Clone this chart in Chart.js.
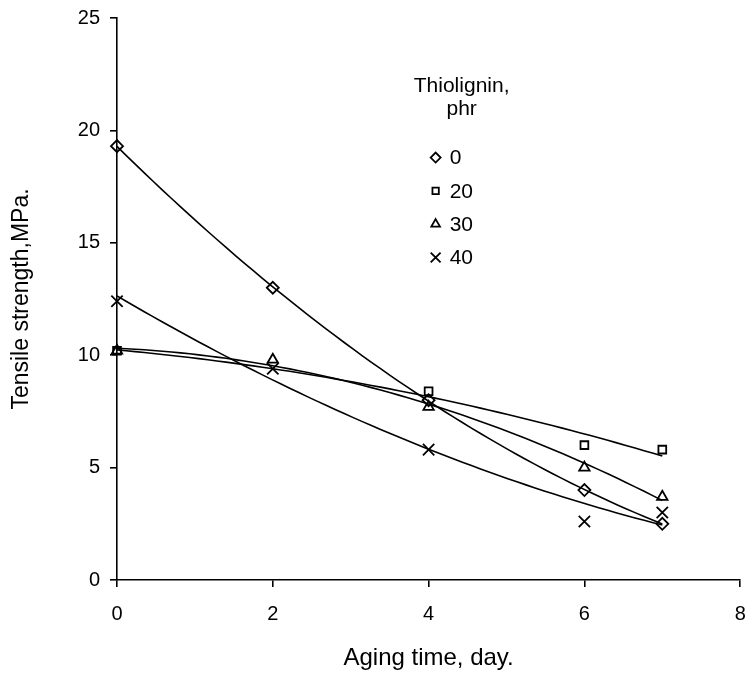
<!DOCTYPE html>
<html>
<head>
<meta charset="utf-8">
<script src="https://cdn.jsdelivr.net/npm/chart.js@4.4.1/dist/chart.umd.min.js"></script>
<style>
  html, body { margin: 0; padding: 0; background: #fff; }
  #wrap { width: 750px; height: 673px; }
</style>
</head>
<body>
<div id="wrap"><canvas id="chart" width="750" height="673"></canvas></div>
<script>
// aging time (days) and tensile strength (MPa) per thiolignin loading
const agingDays = [0, 2, 4, 6, 7];
const phr0 = [19.3, 13.0, 8.0, 4.0, 2.5];
const phr20 = [10.2, null, 8.4, 6.0, 5.8];
const phr30 = [10.2, 9.8, 7.7, 5.0, 3.7];
const phr40 = [12.4, 9.4, 5.8, 2.6, 3.0];
const seriesLabels = ['0', '20', '30', '40'];
const markerStyles = ['rectRot', 'rect', 'triangle', 'crossRot'];
const xTicks = [0, 2, 4, 6, 8];
const yTicks = [0, 5, 10, 15, 20, 25];

const FONT = '"Liberation Sans", Arial, sans-serif';

// 2nd order polynomial trendline, like the spreadsheet one
function quadFit(xs, ys) {
  const pts = xs.map((x, i) => [x, ys[i]]).filter(p => p[1] !== null);
  const s = [0, 0, 0, 0, 0];
  const t = [0, 0, 0];
  pts.forEach(([x, y]) => {
    for (let k = 0; k < 5; k++) s[k] += Math.pow(x, k);
    for (let k = 0; k < 3; k++) t[k] += y * Math.pow(x, k);
  });
  const m = [
    [s[0], s[1], s[2], t[0]],
    [s[1], s[2], s[3], t[1]],
    [s[2], s[3], s[4], t[2]]
  ];
  for (let i = 0; i < 3; i++) {
    for (let j = i + 1; j < 3; j++) {
      const f = m[j][i] / m[i][i];
      for (let k = i; k < 4; k++) m[j][k] -= f * m[i][k];
    }
  }
  const c = [0, 0, 0];
  for (let i = 2; i >= 0; i--) {
    let v = m[i][3];
    for (let k = i + 1; k < 3; k++) v -= m[i][k] * c[k];
    c[i] = v / m[i][i];
  }
  const lo = Math.min(...pts.map(p => p[0]));
  const hi = Math.max(...pts.map(p => p[0]));
  const out = [];
  for (let i = 0; i <= 60; i++) {
    const x = lo + (hi - lo) * i / 60;
    out.push({ x, y: c[0] + c[1] * x + c[2] * x * x });
  }
  return out;
}

const allSeries = [phr0, phr20, phr30, phr40];

function markerRadius(style, inLegend) {
  if (style === 'rect') return inLegend ? 4.5 : 5.5;
  if (style === 'crossRot') return inLegend ? 7 : 8;
  return inLegend ? 5 : 6;
}

const markerSets = allSeries.map((vals, i) => ({
  label: seriesLabels[i],
  data: agingDays.map((d, j) => ({ x: d, y: vals[j] })).filter(p => p.y !== null),
  showLine: false,
  clip: false,
  pointStyle: markerStyles[i],
  pointRadius: markerRadius(markerStyles[i], false),
  pointBorderColor: '#000',
  pointBackgroundColor: 'rgba(255,255,255,0)',
  pointBorderWidth: 1.8,
  order: 1
}));

const trendSets = allSeries.map((vals, i) => ({
  label: 'trend ' + seriesLabels[i],
  data: quadFit(agingDays, vals),
  showLine: true,
  clip: false,
  borderColor: '#000',
  borderWidth: 1.6,
  pointRadius: 0,
  fill: false,
  order: 2
}));

const legendPlugin = {
  id: 'insideLegend',
  afterDraw(chart) {
    const ctx = chart.ctx;
    const area = chart.chartArea;
    const cx = area.left + (area.right - area.left) * 0.553;
    const top = area.top + (area.bottom - area.top) * 0.122;
    ctx.save();
    ctx.fillStyle = '#000';
    ctx.font = '21px ' + FONT;
    ctx.textAlign = 'center';
    ctx.textBaseline = 'middle';
    ctx.fillText('Thiolignin,', cx, top);
    ctx.fillText('phr', cx, top + 23);
    ctx.textAlign = 'left';
    const mx = cx - 26;
    seriesLabels.forEach((lab, i) => {
      const y = top + 71 + i * 33.3;
      ctx.fillStyle = '#fff';
      ctx.strokeStyle = '#000';
      Chart.helpers.drawPoint(ctx, {
        pointStyle: markerStyles[i],
        radius: markerRadius(markerStyles[i], true),
        borderWidth: 1.8
      }, mx, y);
      ctx.fillStyle = '#000';
      ctx.fillText(lab, mx + 14, y + 1);
    });
    ctx.restore();
  }
};

new Chart(document.getElementById('chart'), {
  type: 'scatter',
  data: { datasets: [...markerSets, ...trendSets] },
  options: {
    responsive: false,
    animation: false,
    layout: { padding: { top: 18, right: 5, left: 0, bottom: 0 } },
    plugins: {
      legend: { display: false },
      tooltip: { enabled: false }
    },
    scales: {
      x: {
        type: 'linear',
        min: 0,
        max: 8,
        afterBuildTicks: scale => { scale.ticks = xTicks.map(v => ({ value: v })); },
        afterFit: scale => {
          scale.height = 93;
          scale.paddingLeft = 0;
          scale.paddingRight = 0;
        },
        ticks: { color: '#000', font: { family: FONT, size: 20 }, padding: 15 },
        grid: { drawOnChartArea: false, drawTicks: true, tickLength: 7, color: '#000', lineWidth: 1.6 },
        border: { color: '#000', width: 1.6 },
        title: { display: true, text: 'Aging time, day.', color: '#000', font: { family: FONT, size: 24 }, padding: { top: 10, bottom: 0 } }
      },
      y: {
        type: 'linear',
        min: 0,
        max: 25,
        afterBuildTicks: scale => { scale.ticks = yTicks.map(v => ({ value: v })); },
        afterFit: scale => {
          scale.width = 117;
          scale.paddingTop = 0;
          scale.paddingBottom = 0;
        },
        ticks: { color: '#000', font: { family: FONT, size: 20 }, padding: 10 },
        grid: { drawOnChartArea: false, drawTicks: true, tickLength: 7, color: '#000', lineWidth: 1.6 },
        border: { color: '#000', width: 1.6 },
        title: { display: true, text: 'Tensile strength,MPa.', color: '#000', font: { family: FONT, size: 23 }, padding: { top: 8, bottom: 0 } }
      }
    }
  },
  plugins: [legendPlugin]
});
</script>
</body>
</html>
